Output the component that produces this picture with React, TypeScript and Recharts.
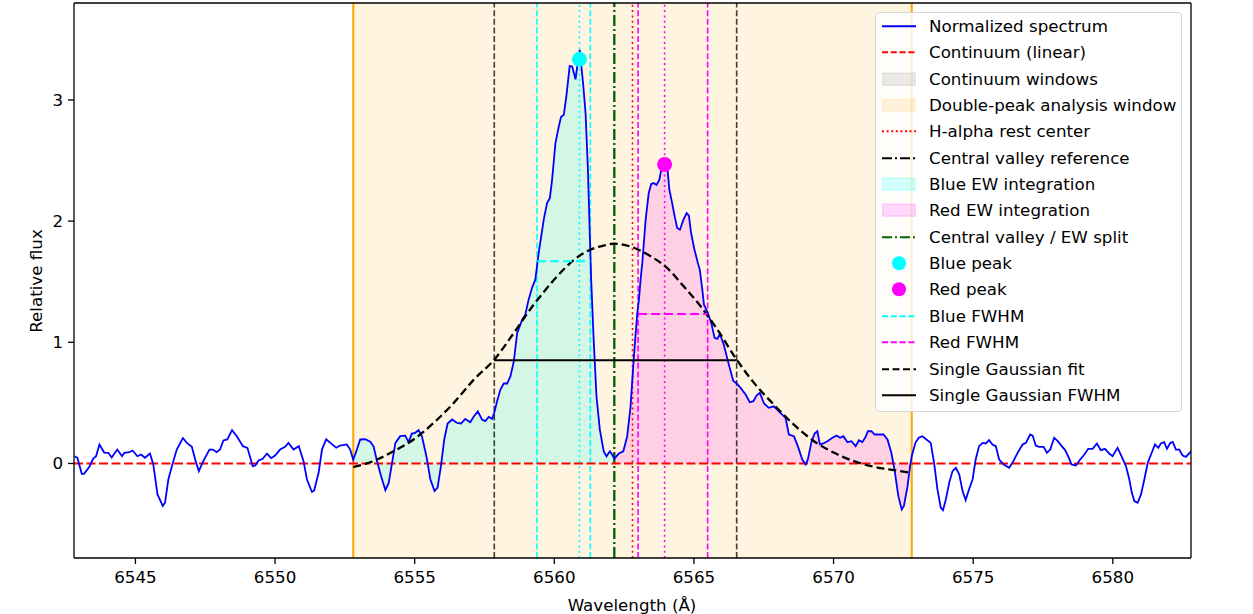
import {
  ComposedChart,
  Line,
  Area,
  XAxis,
  YAxis,
  ReferenceLine,
  ReferenceArea,
  ReferenceDot,
  Label,
} from "recharts";

type Pt = [number, number];

// Normalized spectrum, split at the analysis window edges and the central valley
const spectrumLeft: Pt[] = [
  [6542.82, 0.06], [6542.92, 0.047], [6543.08, -0.085], [6543.16, -0.085], [6543.35, -0.027],
  [6543.49, 0.04], [6543.59, 0.06], [6543.71, 0.157], [6543.88, 0.09], [6544.03, 0.088],
  [6544.15, 0.05], [6544.35, 0.115], [6544.52, 0.06], [6544.6, 0.088], [6544.78, 0.093],
  [6544.9, 0.107], [6545.07, 0.06], [6545.2, 0.074], [6545.34, 0.047], [6545.52, 0.082],
  [6545.64, -0.008], [6545.79, -0.255], [6545.98, -0.35], [6546.06, -0.324], [6546.18, -0.13],
  [6546.34, 0.005], [6546.48, 0.115], [6546.7, 0.21], [6546.84, 0.17], [6547.02, 0.137],
  [6547.14, 0.033], [6547.27, -0.063], [6547.43, 0.019], [6547.65, 0.115], [6547.77, 0.115],
  [6547.91, 0.093], [6548.03, 0.115], [6548.15, 0.19], [6548.29, 0.198], [6548.46, 0.275],
  [6548.63, 0.225], [6548.85, 0.143], [6549.01, 0.129], [6549.2, -0.022], [6549.29, -0.016],
  [6549.41, 0.025], [6549.56, 0.039], [6549.71, 0.082], [6549.86, 0.044], [6550.0, 0.066],
  [6550.18, 0.115], [6550.36, 0.137], [6550.48, 0.17], [6550.66, 0.115], [6550.85, 0.143],
  [6551.02, 0.019], [6551.14, -0.13], [6551.32, -0.235], [6551.4, -0.222], [6551.56, -0.077],
  [6551.68, 0.115], [6551.83, 0.2], [6551.98, 0.17], [6552.19, 0.13], [6552.33, 0.148],
  [6552.57, 0.157], [6552.69, 0.115], [6552.8, 0.03],
];

const spectrumBlue: Pt[] = [
  [6552.8, 0.03], [6552.93, 0.115], [6553.05, 0.198], [6553.23, 0.2], [6553.41, 0.18],
  [6553.53, 0.14], [6553.65, 0.02], [6553.79, -0.1], [6553.95, -0.22], [6554.07, -0.16],
  [6554.19, 0.005], [6554.31, 0.17], [6554.48, 0.225], [6554.66, 0.23], [6554.78, 0.176],
  [6554.9, 0.247], [6555.02, 0.253], [6555.14, 0.275], [6555.26, 0.225], [6555.42, 0.06],
  [6555.56, -0.13], [6555.71, -0.228], [6555.82, -0.2], [6555.94, -0.022], [6556.06, 0.2],
  [6556.18, 0.33], [6556.34, 0.363], [6556.52, 0.335], [6556.66, 0.33], [6556.81, 0.368],
  [6556.99, 0.34], [6557.11, 0.385], [6557.26, 0.43], [6557.41, 0.363], [6557.53, 0.35],
  [6557.65, 0.385], [6557.77, 0.368], [6557.85, 0.418], [6557.95, 0.514], [6558.07, 0.61],
  [6558.19, 0.66], [6558.31, 0.66], [6558.43, 0.72], [6558.55, 0.843], [6558.67, 1.077],
  [6558.85, 1.187], [6558.96, 1.228], [6559.08, 1.352], [6559.2, 1.448], [6559.32, 1.517],
  [6559.44, 1.737], [6559.62, 2.01], [6559.74, 2.149], [6559.84, 2.19], [6559.92, 2.34],
  [6560.04, 2.644], [6560.16, 2.78], [6560.24, 2.86], [6560.34, 2.877], [6560.43, 3.028],
  [6560.55, 3.28], [6560.64, 3.275], [6560.76, 3.17], [6560.82, 3.275], [6560.91, 3.413],
  [6561.03, 3.14], [6561.12, 2.89], [6561.2, 2.45], [6561.27, 1.9], [6561.32, 1.517],
  [6561.41, 1.02], [6561.51, 0.555], [6561.63, 0.28], [6561.77, 0.1], [6561.87, 0.06],
  [6561.99, 0.1], [6562.07, 0.074], [6562.15, 0.04],
];

const spectrumRed: Pt[] = [
  [6562.15, 0.04], [6562.31, 0.082], [6562.47, 0.1], [6562.61, 0.225], [6562.73, 0.47],
  [6562.85, 0.885], [6562.97, 1.24], [6563.03, 1.352], [6563.09, 1.517], [6563.15, 1.655],
  [6563.27, 2.01], [6563.38, 2.23], [6563.47, 2.306], [6563.56, 2.314], [6563.66, 2.298],
  [6563.76, 2.34], [6563.83, 2.424], [6563.95, 2.47], [6564.04, 2.46], [6564.12, 2.26],
  [6564.22, 2.149], [6564.31, 2.04], [6564.4, 1.943], [6564.5, 1.929], [6564.62, 2.01],
  [6564.74, 2.066], [6564.82, 2.045], [6564.9, 1.9], [6565.02, 1.764], [6565.14, 1.655],
  [6565.21, 1.6], [6565.3, 1.434], [6565.36, 1.31], [6565.5, 1.242], [6565.62, 1.16],
  [6565.74, 1.036], [6565.84, 1.028], [6565.93, 1.07], [6566.07, 0.98], [6566.25, 0.816],
  [6566.41, 0.68], [6566.53, 0.66], [6566.67, 0.624], [6566.85, 0.569], [6567.0, 0.505],
  [6567.13, 0.514], [6567.24, 0.56], [6567.36, 0.583], [6567.51, 0.495], [6567.68, 0.459],
  [6567.86, 0.472], [6567.98, 0.445], [6568.16, 0.404], [6568.28, 0.377], [6568.4, 0.239],
  [6568.58, 0.225], [6568.72, 0.143], [6568.88, 0.033], [6569.0, -0.008], [6569.08, 0.033],
  [6569.2, 0.17], [6569.32, 0.247], [6569.42, 0.266], [6569.51, 0.157], [6569.63, 0.165],
  [6569.78, 0.184], [6569.96, 0.212], [6570.11, 0.23], [6570.23, 0.212], [6570.35, 0.225],
  [6570.5, 0.176], [6570.64, 0.184], [6570.79, 0.143], [6570.91, 0.192], [6571.03, 0.176],
  [6571.15, 0.22], [6571.23, 0.266], [6571.36, 0.266], [6571.47, 0.239], [6571.63, 0.239],
  [6571.79, 0.239], [6571.93, 0.198], [6572.07, 0.088], [6572.19, -0.063], [6572.32, -0.27],
  [6572.44, -0.38], [6572.52, -0.35], [6572.65, -0.187], [6572.74, -0.022], [6572.8, 0.06],
];

const spectrumRight: Pt[] = [
  [6572.8, 0.06], [6572.93, 0.17], [6573.05, 0.212], [6573.18, 0.225], [6573.36, 0.192],
  [6573.48, 0.17], [6573.6, 0.005], [6573.72, -0.214], [6573.84, -0.365], [6573.92, -0.385],
  [6574.02, -0.297], [6574.14, -0.16], [6574.26, -0.063], [6574.38, -0.036], [6574.5, -0.09],
  [6574.62, -0.228], [6574.73, -0.302], [6574.85, -0.214], [6574.98, -0.13], [6575.09, 0.033],
  [6575.21, 0.143], [6575.34, 0.17], [6575.45, 0.165], [6575.57, 0.192], [6575.69, 0.157],
  [6575.81, 0.143], [6575.93, 0.033], [6576.09, -0.008], [6576.29, -0.036], [6576.44, 0.019],
  [6576.59, 0.088], [6576.77, 0.157], [6576.89, 0.17], [6577.04, 0.239], [6577.13, 0.23],
  [6577.24, 0.148], [6577.36, 0.137], [6577.52, 0.137], [6577.64, 0.088], [6577.76, 0.115],
  [6577.9, 0.212], [6578.03, 0.184], [6578.17, 0.143], [6578.28, 0.115], [6578.4, 0.06],
  [6578.52, -0.008], [6578.68, -0.016], [6578.83, 0.033], [6578.98, 0.074], [6579.12, 0.121],
  [6579.28, 0.121], [6579.43, 0.165], [6579.57, 0.11], [6579.72, 0.121], [6579.87, 0.082],
  [6579.99, 0.06], [6580.17, 0.129], [6580.31, 0.06], [6580.47, -0.022], [6580.59, -0.13],
  [6580.68, -0.24], [6580.77, -0.31], [6580.89, -0.324], [6581.01, -0.255], [6581.13, -0.13],
  [6581.25, 0.005], [6581.37, 0.074], [6581.51, 0.157], [6581.63, 0.129], [6581.72, 0.165],
  [6581.84, 0.176], [6581.94, 0.121], [6582.06, 0.17], [6582.15, 0.176], [6582.26, 0.115],
  [6582.38, 0.115], [6582.5, 0.066], [6582.62, 0.055], [6582.8, 0.1],
];

// Single Gaussian fit across the analysis window
const gaussFit: Pt[] = [
  [6552.8, -0.03], [6553.53, 0.02], [6554.24, 0.1], [6554.96, 0.198], [6555.68, 0.335],
  [6556.4, 0.5], [6557.11, 0.69], [6557.85, 0.857], [6558.55, 1.077], [6559.26, 1.31],
  [6559.5, 1.38], [6560.1, 1.544], [6560.7, 1.68], [6561.29, 1.764], [6561.8, 1.8],
  [6562.13, 1.814], [6562.73, 1.79], [6563.45, 1.71], [6564.04, 1.613], [6564.64, 1.46],
  [6565.24, 1.297], [6565.84, 1.105], [6566.53, 0.857], [6567.15, 0.665], [6567.86, 0.486],
  [6568.58, 0.32], [6569.3, 0.184], [6570.02, 0.088], [6570.73, 0.019], [6571.45, -0.027],
  [6572.17, -0.055], [6572.8, -0.077],
];

const xDomain: Pt = [6542.8, 6582.8];
const yDomain: Pt = [-0.78, 3.8];
const xTicks = [6545, 6550, 6555, 6560, 6565, 6570, 6575, 6580];
const yTicks = [0, 1, 2, 3];

const continuumLevel = 0;
const analysisWindow = [6552.8, 6572.8];
const haRest = 6562.8;
const valley = 6562.15;
const bluePeak = { w: 6560.9, flux: 3.336 };
const redPeak = { w: 6563.95, flux: 2.468 };
const blueFwhm = { from: 6559.38, to: 6561.29, level: 1.668 };
const redFwhm = { from: 6563.0, to: 6565.49, level: 1.234 };
const gaussFwhm = { from: 6557.85, to: 6566.53, level: 0.852 };

const rows = (pts: Pt[]) => pts.map(([w, flux]) => ({ w, flux }));
const spectrum = rows([
  ...spectrumLeft,
  ...spectrumBlue.slice(1),
  ...spectrumRed.slice(1),
  ...spectrumRight.slice(1),
]);
const segment = (s: { from: number; to: number; level: number }) => [
  { w: s.from, flux: s.level },
  { w: s.to, flux: s.level },
];

const FONT = '"DejaVu Sans", sans-serif';
const FS = 16.7;

type LegendItem = {
  label: string;
  kind: "line" | "patch" | "dot";
  color: string;
  dash?: string;
  alpha?: number;
};

const legendItems: LegendItem[] = [
  { label: "Normalized spectrum", kind: "line", color: "#0000ff" },
  { label: "Continuum (linear)", kind: "line", color: "#ff0000", dash: "6 2.8" },
  { label: "Continuum windows", kind: "patch", color: "#808080", alpha: 0.15 },
  { label: "Double-peak analysis window", kind: "patch", color: "#ffa500", alpha: 0.12 },
  { label: "H-alpha rest center", kind: "line", color: "#ff0000", dash: "2 2.6" },
  { label: "Central valley reference", kind: "line", color: "#000000", dash: "10 3 2 3" },
  { label: "Blue EW integration", kind: "patch", color: "#00ffff", alpha: 0.18 },
  { label: "Red EW integration", kind: "patch", color: "#ff00ff", alpha: 0.15 },
  { label: "Central valley / EW split", kind: "line", color: "#006400", dash: "10 3 2 3" },
  { label: "Blue peak", kind: "dot", color: "#00ffff" },
  { label: "Red peak", kind: "dot", color: "#ff00ff" },
  { label: "Blue FWHM", kind: "line", color: "#00ffff", dash: "6 2.8" },
  { label: "Red FWHM", kind: "line", color: "#ff00ff", dash: "6 2.8" },
  { label: "Single Gaussian fit", kind: "line", color: "#000000", dash: "7 3.5" },
  { label: "Single Gaussian FWHM", kind: "line", color: "#000000" },
];

const ROW = 26.36;

function LegendBox() {
  return (
    <div
      style={{
        position: "absolute",
        left: 875,
        top: 12,
        width: 307,
        height: 400,
        boxSizing: "border-box",
        border: "1px solid #d6d6d6",
        borderRadius: 4,
        background: "rgba(255,255,255,0.8)",
        fontFamily: FONT,
        fontSize: FS,
        color: "#000",
      }}
    >
      {legendItems.map((item, i) => (
        <div
          key={item.label}
          style={{
            position: "absolute",
            left: 0,
            top: 13 + i * ROW - ROW / 2,
            height: ROW,
            lineHeight: `${ROW}px`,
            whiteSpace: "nowrap",
          }}
        >
          <svg
            width={34}
            height={ROW}
            style={{ position: "absolute", left: 6, top: 0 }}
          >
            {item.kind === "line" && (
              <line
                x1={0}
                x2={34}
                y1={ROW / 2}
                y2={ROW / 2}
                stroke={item.color}
                strokeWidth={2}
                strokeDasharray={item.dash}
              />
            )}
            {item.kind === "patch" && (
              <rect
                x={0.75}
                y={ROW / 2 - 6}
                width={32.5}
                height={12}
                fill={item.color}
                fillOpacity={item.alpha}
                stroke={item.color}
                strokeOpacity={item.alpha}
                strokeWidth={1.5}
              />
            )}
            {item.kind === "dot" && (
              <circle cx={17} cy={ROW / 2} r={7} fill={item.color} />
            )}
          </svg>
          <span style={{ position: "absolute", left: 53 }}>{item.label}</span>
        </div>
      ))}
    </div>
  );
}

const vline = (x: number, color: string, dash?: string, width = 1.6, opacity = 1) => (
  <ReferenceLine
    key={`v-${x}-${color}`}
    x={x}
    stroke={color}
    strokeWidth={width}
    strokeDasharray={dash}
    strokeOpacity={opacity}
  />
);

export default function App() {
  return (
    <div
      style={{
        position: "absolute",
        left: 0,
        top: 0,
        width: 1253,
        height: 614,
        background: "#fff",
        fontFamily: FONT,
      }}
    >
      <ComposedChart
        width={1253}
        height={614}
        margin={{ top: 3, right: 62, bottom: 0, left: 0 }}
      >
        <XAxis
          dataKey="w"
          type="number"
          domain={xDomain}
          ticks={xTicks}
          allowDataOverflow
          height={56}
          tickSize={6}
          tickMargin={7}
          tick={{ fill: "#000", fontSize: FS, fontFamily: FONT }}
          tickLine={{ stroke: "#000", strokeWidth: 1.3 }}
          axisLine={{ stroke: "#000", strokeWidth: 1.3 }}
        >
          <Label
            content={() => (
              <text x={632} y={611} textAnchor="middle" fontSize={FS} fontFamily={FONT} fill="#000">
                Wavelength (Å)
              </text>
            )}
          />
        </XAxis>
        <YAxis
          type="number"
          domain={yDomain}
          ticks={yTicks}
          allowDataOverflow
          width={74}
          tickSize={6}
          tickMargin={5}
          tick={{ fill: "#000", fontSize: FS, fontFamily: FONT }}
          tickLine={{ stroke: "#000", strokeWidth: 1.3 }}
          axisLine={{ stroke: "#000", strokeWidth: 1.3 }}
        >
          <Label
            content={() => (
              <text
                x={41.5}
                y={281}
                transform="rotate(-90, 41.5, 281)"
                textAnchor="middle"
                fontSize={FS}
                fontFamily={FONT}
                fill="#000"
              >
                Relative flux
              </text>
            )}
          />
        </YAxis>

        {/* double-peak analysis window */}
        <ReferenceArea
          x1={analysisWindow[0]}
          x2={analysisWindow[1]}
          fill="#ffa500"
          fillOpacity={0.12}
          stroke="none"
        />

        {/* EW integration regions */}
        <Area
          data={rows(spectrumBlue)}
          dataKey="flux"
          baseValue={continuumLevel}
          type="linear"
          fill="#00ffff"
          fillOpacity={0.17}
          stroke="none"
          isAnimationActive={false}
        />
        <Area
          data={rows(spectrumRed)}
          dataKey="flux"
          baseValue={continuumLevel}
          type="linear"
          fill="#ff00ff"
          fillOpacity={0.15}
          stroke="none"
          isAnimationActive={false}
        />

        {analysisWindow.map((x) => vline(x, "#ffa500", undefined, 2))}
        {vline(gaussFwhm.from, "#000", "6 2.6", 1.6, 0.75)}
        {vline(gaussFwhm.to, "#000", "6 2.6", 1.6, 0.75)}
        {vline(blueFwhm.from, "#00ffff", "6 2.6")}
        {vline(blueFwhm.to, "#00ffff", "6 2.6")}
        {vline(bluePeak.w, "#00ffff", "2 3.3")}
        {vline(redFwhm.from, "#ff00ff", "6 2.6")}
        {vline(redFwhm.to, "#ff00ff", "6 2.6")}
        {vline(redPeak.w, "#ff00ff", "2 3.3")}
        {vline(haRest, "#ff0000", "2 3.3")}
        {vline(valley, "#000000", "11 3 2 3", 1.6)}
        {vline(valley, "#006400", "11 3 2 3", 2)}

        <ReferenceLine
          y={continuumLevel}
          stroke="#ff0000"
          strokeWidth={2}
          strokeDasharray="9 3.5"
        />

        <Line
          data={spectrum}
          dataKey="flux"
          type="linear"
          stroke="#0000ff"
          strokeWidth={1.8}
          dot={false}
          activeDot={false}
          isAnimationActive={false}
        />

        <Line
          data={rows(gaussFit)}
          dataKey="flux"
          type="monotone"
          stroke="#000"
          strokeWidth={2.3}
          strokeDasharray="8 4"
          dot={false}
          activeDot={false}
          isAnimationActive={false}
        />
        <Line
          data={segment(gaussFwhm)}
          dataKey="flux"
          stroke="#000"
          strokeWidth={2}
          dot={false}
          activeDot={false}
          isAnimationActive={false}
        />
        <Line
          data={segment(blueFwhm)}
          dataKey="flux"
          stroke="#00ffff"
          strokeWidth={2}
          strokeDasharray="9 4"
          dot={false}
          activeDot={false}
          isAnimationActive={false}
        />
        <Line
          data={segment(redFwhm)}
          dataKey="flux"
          stroke="#ff00ff"
          strokeWidth={2}
          strokeDasharray="9 4"
          dot={false}
          activeDot={false}
          isAnimationActive={false}
        />

        <ReferenceDot x={bluePeak.w} y={bluePeak.flux} r={7.5} fill="#00ffff" stroke="none" />
        <ReferenceDot x={redPeak.w} y={redPeak.flux} r={7.5} fill="#ff00ff" stroke="none" />

        {/* top and right spines */}
        <ReferenceLine y={yDomain[1]} stroke="#000" strokeWidth={1.3} />
        <ReferenceLine x={xDomain[1]} stroke="#000" strokeWidth={1.3} />
      </ComposedChart>
      <LegendBox />
    </div>
  );
}
